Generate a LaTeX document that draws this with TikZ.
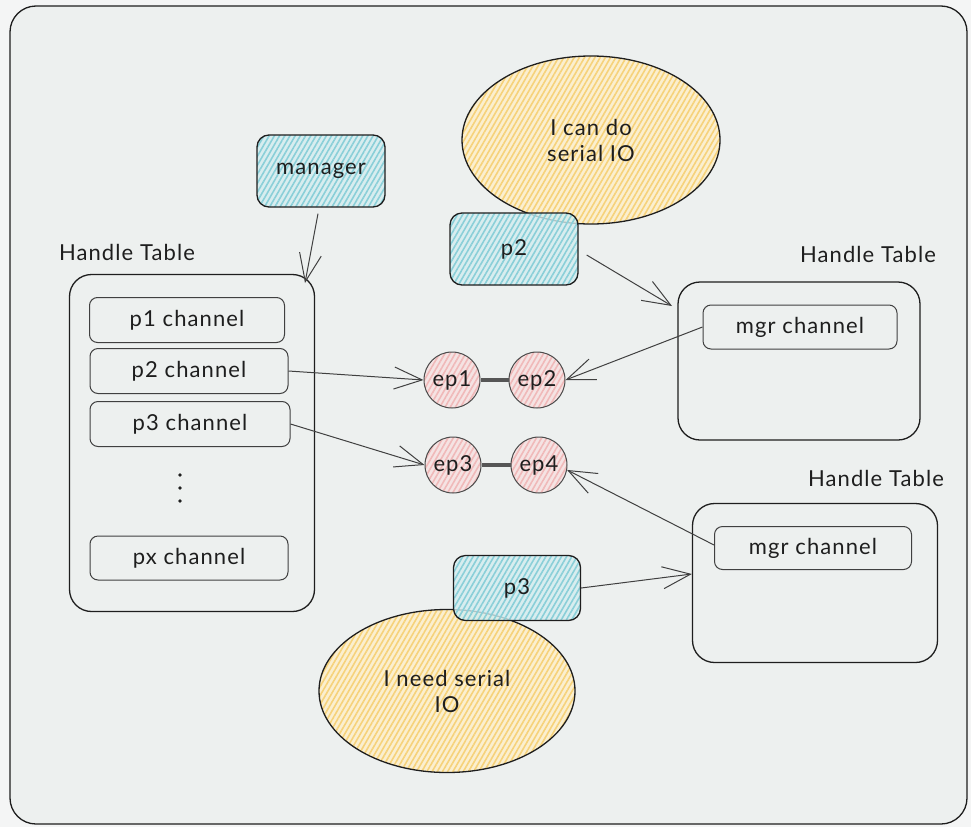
\documentclass[tikz,border=0pt]{standalone}
\usepackage{fontspec}
\setmainfont{Lato}[LetterSpace=5]
\usetikzlibrary{arrows.meta,shapes.geometric,patterns.meta,calc}
\definecolor{pagebg}{HTML}{F4F5F5}
\definecolor{canvas}{HTML}{EDF0EF}
\definecolor{ink}{HTML}{1E1E1E}
\definecolor{tealbg}{HTML}{D3EDEF}
\definecolor{tealline}{HTML}{8ACFD8}
\definecolor{yelbg}{HTML}{FBEFCF}
\definecolor{yelline}{HTML}{F6D27A}
\definecolor{pinkbg}{HTML}{F5E3E3}
\definecolor{pinkline}{HTML}{F0B9B9}
\tikzset{
  txt/.style={font=\fontsize{22}{26}\selectfont, text=ink},
  hatch/.style={preaction={fill=#1bg}, pattern={Lines[angle=60,distance=4.5pt,line width=1.6pt]}, pattern color=#1line},
  colbox/.style={draw=ink, line width=1.3pt, rounded corners=12, txt, hatch=#1, fill opacity=0.8, text opacity=1},
  tablebox/.style={draw=ink, line width=1.3pt, rounded corners=22},
  chanbox/.style={draw=ink!85, line width=1pt, rounded corners=8, txt},
  bubble/.style={ellipse, draw=ink, line width=1.3pt, txt, hatch=yel, align=center},
  ep/.style={circle, draw=ink!80, line width=1pt, hatch=pink, minimum size=56, inner sep=0pt, txt},
  conn/.style={draw=ink!85, line width=1pt, -{Straight Barb[length=28pt,width=22pt,line width=1pt]}},
  link/.style={draw=ink!75, line width=4pt},
  label/.style={txt, anchor=center}
}
\begin{document}
\begin{tikzpicture}[x=1pt,y=-1pt]
\useasboundingbox (0,0) rectangle (971,827);
\fill[pagebg] (0,0) rectangle (971,827);
\draw[ink, line width=1.3pt, fill=canvas, rounded corners=26] (10,6) rectangle (967,824);

% top bubble and p2
\node[bubble, minimum width=258, minimum height=168] (b1) at (591,140) {I can do\\serial IO};
\node[colbox=teal, minimum width=128, minimum height=72] (p2) at (514,249) {p2};
\node[colbox=teal, minimum width=128, minimum height=72] (mgr) at (321,171) {manager};

% left handle table
\node[label] (lht) at (127,252) {Handle Table};
\node[tablebox, minimum width=245, minimum height=337] (lt) at (192,443) {};
\node[chanbox, minimum width=195, minimum height=45] (c1) at (187,320) {p1 channel};
\node[chanbox, minimum width=198, minimum height=45] (c2) at (189,371) {p2 channel};
\node[chanbox, minimum width=200, minimum height=45] (c3) at (190,424) {p3 channel};
\node[chanbox, minimum width=198, minimum height=44] (cx) at (189,558) {px channel};
\foreach \yy in {475,488,501} \fill[ink] (180,\yy) circle (1.8);

% endpoints
\node[ep] (ep1) at (452,380) {ep1};
\node[ep] (ep2) at (537,380) {ep2};
\node[ep] (ep3) at (453,465) {ep3};
\node[ep] (ep4) at (539,465) {ep4};
\draw[link] (ep1) -- (ep2);
\draw[link] (ep3) -- (ep4);

% right handle table 1
\node[label] (rht1) at (868,254) {Handle Table};
\node[tablebox, minimum width=242, minimum height=158] (rt1) at (799,361) {};
\node[chanbox, minimum width=194, minimum height=44] (m1) at (800,327) {mgr channel};

% right handle table 2
\node[label] (rht2) at (876,478) {Handle Table};
\node[tablebox, minimum width=245, minimum height=159] (rt2) at (815,583) {};
\node[chanbox, minimum width=197, minimum height=43] (m2) at (813,548) {mgr channel};

% bottom bubble and p3
\node[bubble, minimum width=256, minimum height=163] (b2) at (447,691) {I need serial\\IO};
\node[colbox=teal, minimum width=127, minimum height=65] (p3) at (517,588) {p3};

% connectors
\coordinate (lttop) at (305,283);
\draw[conn] (mgr.south) ++(-3,6) coordinate (mgrs) -- (lttop);
\coordinate (rt1in) at (672,306);
\draw[conn] (p2.east) ++(8,6) coordinate (p2e) -- (rt1in);
\draw[conn] (c2.east) -- (ep1.west);
\draw[conn] (c3.east) -- (ep3.west);
\draw[conn] (m1.west) -- (ep2.east);
\draw[conn] (m2.west) ++(0,-3) coordinate (m2w) -- (ep4.-10);
\draw[conn] (p3.east) -- (rt2.west |- 0,574);
\end{tikzpicture}
\end{document}
